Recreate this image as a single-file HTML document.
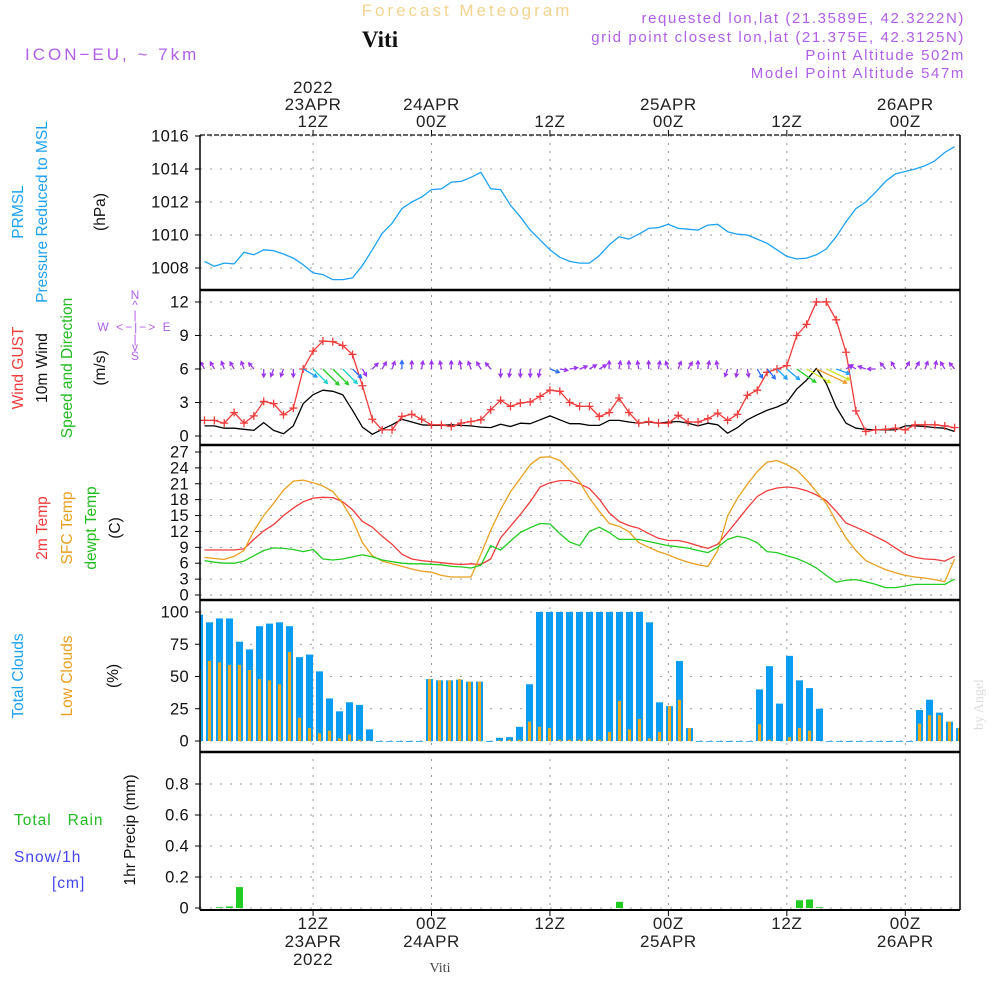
<!DOCTYPE html>
<html><head><meta charset="utf-8"><style>
html,body{margin:0;padding:0;background:#fff;}
svg{display:block;font-family:"Liberation Sans",sans-serif;}
</style></head><body>
<svg id="chart" width="1000" height="1000" viewBox="0 0 1000 1000" xmlns="http://www.w3.org/2000/svg">
<rect width="1000" height="1000" fill="#fff"/>
<g id="texts" font-size="15" fill="#222">
<text x="467" y="16" text-anchor="middle" fill="#f3d490" font-size="17" letter-spacing="3">Forecast Meteogram</text>
<text x="380" y="47" text-anchor="middle" font-family="Liberation Serif,serif" font-weight="bold" font-size="23" fill="#111">Viti</text>
<text x="25" y="60" fill="#b060e8" font-size="17" letter-spacing="3">ICON−EU, ~ 7km</text>
<g fill="#b060e8" font-size="15" text-anchor="end" letter-spacing="1.6">
<text x="965" y="23">requested lon,lat (21.3589E, 42.3222N)</text>
<text x="965" y="42">grid point closest lon,lat (21.375E, 42.3125N)</text>
<text x="965" y="60">Point Altitude 502m</text>
<text x="965" y="78">Model Point Altitude 547m</text>
</g>
<text transform="translate(983,730) rotate(-90)" fill="#ddd" font-family="Liberation Serif,serif" font-size="14">by Angel</text>
<text x="440" y="972" text-anchor="middle" font-family="Liberation Serif,serif" font-size="14" fill="#444">Viti</text>
<g font-size="15.5">
<text transform="translate(23,212) rotate(-90)" text-anchor="middle" fill="#1da1f2">PRMSL</text>
<text transform="translate(47,212) rotate(-90)" text-anchor="middle" fill="#1da1f2">Pressure Reduced to MSL</text>
<text transform="translate(105,212) rotate(-90)" text-anchor="middle" fill="#111">(hPa)</text>
<text transform="translate(23,368) rotate(-90)" text-anchor="middle" fill="#f03c3c">Wind GUST</text>
<text transform="translate(47,368) rotate(-90)" text-anchor="middle" fill="#111">10m Wind</text>
<text transform="translate(72,368) rotate(-90)" text-anchor="middle" fill="#22bb22">Speed and Direction</text>
<text transform="translate(105,368) rotate(-90)" text-anchor="middle" fill="#111">(m/s)</text>
<g fill="#b060e8" font-size="12" text-anchor="middle">
<text x="135" y="299">N</text><text x="135" y="309">^</text><text x="135" y="319">|</text>
<text x="135" y="331" letter-spacing="2">W &lt;−|−&gt; E</text><text x="135" y="343">|</text><text x="135" y="351">v</text><text x="135" y="360">S</text>
</g>
<text transform="translate(47,528) rotate(-90)" text-anchor="middle" fill="#f03c3c">2m Temp</text>
<text transform="translate(72,528) rotate(-90)" text-anchor="middle" fill="#e8a020">SFC Temp</text>
<text transform="translate(96,528) rotate(-90)" text-anchor="middle" fill="#22bb22">dewpt Temp</text>
<text transform="translate(120,528) rotate(-90)" text-anchor="middle" fill="#111">(C)</text>
<text transform="translate(23,676) rotate(-90)" text-anchor="middle" fill="#1da1f2">Total Clouds</text>
<text transform="translate(72,676) rotate(-90)" text-anchor="middle" fill="#e8a020">Low Clouds</text>
<text transform="translate(118,676) rotate(-90)" text-anchor="middle" fill="#111">(%)</text>
<text x="14" y="825" fill="#22bb22" letter-spacing="1" xml:space="preserve">Total   Rain</text>
<text x="14" y="862" fill="#4444ee" letter-spacing="1">Snow/1h</text>
<text x="52" y="888" fill="#4444ee" letter-spacing="1">[cm]</text>
<text transform="translate(135,830) rotate(-90)" text-anchor="middle" fill="#111">1hr Precip (mm)</text>
</g>
</g>
<g id="grid"></g>
<g id="marks"></g>
<g id="frame"></g>
</svg>
<script>
const pressure = [1008.4,1008.1,1008.3,1008.25,1008.95,1008.8,1009.1,1009.05,1008.85,1008.6,1008.2,1007.7,1007.6,1007.3,1007.3,1007.4,1008.15,1009.1,1010.1,1010.7,1011.6,1012.0,1012.3,1012.75,1012.8,1013.2,1013.25,1013.5,1013.8,1012.8,1012.75,1011.8,1011.1,1010.3,1009.7,1009.1,1008.65,1008.4,1008.3,1008.3,1008.75,1009.4,1009.9,1009.75,1010.05,1010.4,1010.45,1010.65,1010.4,1010.35,1010.3,1010.6,1010.65,1010.2,1010.05,1010.0,1009.75,1009.5,1009.1,1008.7,1008.55,1008.6,1008.8,1009.15,1009.9,1010.8,1011.6,1012.0,1012.6,1013.25,1013.7,1013.85,1014.0,1014.2,1014.5,1015.0,1015.35];
const wind10m = [0.9,0.9,0.7,0.7,0.6,0.5,1.2,0.5,0.2,0.9,2.9,3.7,4.1,4.0,3.7,2.3,0.8,0.15,0.6,1.0,1.5,1.25,1.0,0.95,0.95,1.0,0.95,0.9,0.8,0.75,1.05,0.85,1.15,1.1,1.45,1.8,1.45,1.1,1.1,0.95,0.95,1.4,1.4,1.25,1.15,1.25,1.15,1.25,1.3,1.15,0.9,1.15,1.0,0.25,0.75,1.45,1.9,2.3,2.6,3.0,4.2,5.0,6.05,4.7,2.6,1.15,0.7,0.6,0.55,0.55,0.55,0.9,0.9,0.85,0.75,0.7,0.4];
const gust = [1.4,1.4,1.15,2.1,1.15,1.8,3.1,2.9,1.9,2.5,6.0,7.6,8.5,8.45,8.1,7.3,4.5,1.5,0.55,0.55,1.75,1.95,1.5,1.0,1.0,0.85,1.15,1.3,1.45,2.35,3.2,2.65,2.95,3.05,3.55,4.1,4.0,3.0,2.65,2.65,1.75,2.1,3.4,2.1,1.15,1.3,1.15,1.15,1.85,1.25,1.25,1.55,2.05,1.4,1.95,3.65,4.1,5.7,6.0,6.3,9.0,10.0,12.0,12.0,10.4,7.5,2.25,0.4,0.55,0.6,0.7,0.55,1.0,1.0,1.0,0.9,0.75];
const windDir = [330,330,340,330,340,320,180,200,200,180,120,135,135,135,135,135,150,45,30,20,0,0,10,0,350,0,350,340,330,320,180,190,180,180,190,110,100,80,70,60,60,0,10,0,350,0,10,340,20,30,0,10,350,200,190,170,150,140,135,130,125,120,115,115,110,60,300,290,270,320,330,30,30,20,10,330,320];
const temp2m = [8.5,8.5,8.5,8.5,8.7,10.5,12.1,13.3,15.0,16.4,17.6,18.3,18.45,18.4,17.6,16.1,13.9,12.8,11.1,9.6,7.7,6.8,6.5,6.3,6.1,5.9,5.75,5.9,5.75,6.8,10.8,13.0,15.2,17.6,20.4,21.2,21.6,21.6,21.0,20.1,18.1,15.5,13.9,13.1,12.6,11.6,10.7,10.3,10.3,9.9,9.3,8.8,9.6,11.8,14.1,16.4,18.6,19.7,20.2,20.4,20.2,19.7,18.9,17.8,15.8,13.6,12.8,11.95,11.0,10.1,8.9,7.7,7.1,6.8,6.7,6.4,7.3];
const tempSfc = [7.1,6.9,6.7,7.3,8.4,12.1,15.0,17.3,19.8,21.5,21.7,21.2,20.6,19.5,17.3,14.2,9.9,7.4,6.4,5.9,5.4,4.9,4.5,4.3,3.7,3.4,3.4,3.4,7.7,12.2,16.1,19.5,22.0,24.6,26.0,26.1,25.4,23.5,21.4,18.3,15.8,13.5,13.0,11.95,9.9,9.0,8.2,7.6,6.8,6.2,5.7,5.4,8.4,14.9,18.3,20.9,23.3,25.1,25.4,24.6,23.6,21.7,19.5,17.3,13.9,10.8,8.4,6.5,5.6,4.8,4.2,3.7,3.4,3.2,2.9,2.5,6.8];
const dewpt = [6.5,6.2,6.0,6.0,6.4,7.4,8.4,8.9,8.8,8.6,8.2,8.6,6.8,6.6,6.8,7.2,7.6,7.2,6.6,6.3,6.0,5.9,5.9,5.8,5.7,5.4,5.3,5.1,5.6,9.3,8.5,10.2,11.8,12.7,13.5,13.4,11.6,10.0,9.3,12.0,12.8,11.8,10.5,10.5,10.5,10.1,9.7,9.3,9.1,8.85,8.4,8.0,9.0,10.5,11.1,10.7,9.9,8.2,8.0,7.4,6.9,6.1,5.1,3.7,2.4,2.8,2.9,2.5,2.0,1.4,1.4,1.7,2.0,2.0,2.0,2.0,3.0];
const totalClouds = [98,92,95,95,77,71,89,91,92,89,65,67,54,33,23,30,28,9,0,0,0,0,0,48,47,47,47.5,46,46,0,2.5,3,11,44,100,100,100,100,100,100,100,100,100,100,100,92,30,27,62,10,0,0,0,0,0,0,40,58,29,66,47,41,25,0,0,0,0,0,0,0,0,0,24,32,22,15,10,10];
const lowClouds = [55,62,61,59,59,55,48,47,44,69,18,10,6,8,2,5,1,0.3,0,0,0,0,0,48,47,47,48,46,46,0,0.5,1,1,15,11,10,1,1,1,1,1,7,31,9,17,2,7,27,32,10,0,0,0,0,0,0,13,1,0,3,10,8,0,0,0,0,0,0,0,0,0,0,13.5,20,20,15,10,10];
const precip = [0,0,0.005,0.01,0.135,0,0,0,0,0,0,0,0,0,0,0,0,0,0,0,0,0,0,0,0,0,0,0,0,0,0,0,0,0,0,0,0,0,0,0,0,0,0.04,0,0,0,0,0,0,0,0,0,0,0,0,0,0,0,0,0,0.05,0.055,0.005,0,0,0,0,0,0,0,0,0,0,0,0,0,0,0];
const pressTicks = [1008,1010,1012,1014,1016];
const windTicks = [0,3,6,9,12];
const tempTicks = [0,3,6,9,12,15,18,21,24,27];
const cloudTicks = [0,25,50,75,100];
const precipTicks = ["0","0.2","0.4","0.6","0.8"];
const timeHours = [11,23,35,47,59,71];
const timeTopLabels = [["2022","23APR","12Z"],["24APR","00Z"],["12Z"],["25APR","00Z"],["12Z"],["26APR","00Z"]];
const timeBottomLabels = [["12Z","23APR","2022"],["00Z","24APR"],["12Z"],["00Z","25APR"],["12Z"],["00Z","26APR"]];

const X0=200, X1=960;
const xOf = h => 204.5 + 9.87*h;
const xBar = k => 199.5 + 10.0*k;
const yP = v => 268 - (v-1008)*16.5;
const yW = v => 436 - v*11.17;
const yT = v => 595 - v*5.296;
const yC = v => 741 - v*1.29;
const yR = v => 908 - v*155;
const NS='http://www.w3.org/2000/svg';
const mk=(tag,attrs,parent)=>{const e=document.createElementNS(NS,tag);for(const k in attrs)e.setAttribute(k,attrs[k]);parent.appendChild(e);return e;};
const grid=document.getElementById('grid'), marks=document.getElementById('marks'), frame=document.getElementById('frame');

timeHours.forEach(h=>{
  const l=mk('line',{x1:xOf(h),x2:xOf(h),y1:135,y2:910,stroke:'#999','stroke-dasharray':'2,6','stroke-width':1},grid);
  
  
});
function yTicks(ticks,yf,labels,name){
  ticks.forEach((t,i)=>{
    const y=yf(t);
    const g=mk('line',{x1:X0,x2:X1,y1:y,y2:y,stroke:'#999','stroke-dasharray':'2,8','stroke-width':1},grid);
    
    
    mk('line',{x1:X0-5,x2:X0,y1:y,y2:y,stroke:'#000'},frame);
    const tx=mk('text',{x:X0-11,y:y+5.5,'text-anchor':'end','font-size':16.5,fill:'#111','letter-spacing':'0.3'},frame);
    tx.textContent=labels?labels[i]:t;
    
    
  });
}
yTicks(pressTicks,yP,null,'pressure');
yTicks(windTicks,yW,null,'wind');
yTicks(tempTicks,yT,null,'temp');
yTicks(cloudTicks,yC,null,'cloud');
yTicks([0,0.2,0.4,0.6,0.8],yR,precipTicks,'precip');

timeHours.forEach((h,i)=>{
  const top=timeTopLabels[i];
  top.forEach((s,j)=>{
    const t=mk('text',{x:xOf(h),y:127-(top.length-1-j)*17,'text-anchor':'middle','font-size':17,fill:'#222','letter-spacing':'0.6'},frame);
    t.textContent=s;
    
    
  });
  timeBottomLabels[i].forEach((s,j)=>{
    const t=mk('text',{x:xOf(h),y:929+j*18,'text-anchor':'middle','font-size':17,fill:'#222','letter-spacing':'0.6'},frame);
    t.textContent=s;
    
    
  });
  mk('line',{x1:xOf(h),x2:xOf(h),y1:130,y2:136,stroke:'#000'},frame);
  mk('line',{x1:xOf(h),x2:xOf(h),y1:910,y2:916,stroke:'#000'},frame);
});

function line(arr,yf,color,name,w){
  const p=mk('polyline',{points:arr.map((v,i)=>xOf(i).toFixed(1)+','+yf(v).toFixed(1)).join(' '),fill:'none',stroke:color,'stroke-width':w||1.3,'stroke-linejoin':'round'},marks);
  
  
}
line(pressure,yP,'#1da1f2','pressure-line');
line(wind10m,yW,'#000','wind-10m-line');
line(gust,yW,'#f03c3c','wind-gust-line');
gust.forEach((v,i)=>{
  const x=xOf(i),y=yW(v);
  const m=mk('path',{d:`M${x-4},${y}H${x+4}M${x},${y-4}V${y+4}`,stroke:'#f03c3c','stroke-width':1.3},marks);
  
  
});
function arrowColor(s){
  if(s<1.5) return '#9a33ee';
  if(s<2.5) return '#2b6bff';
  if(s<3.3) return '#1aa0ff';
  if(s<3.9) return '#1ccfcf';
  if(s<4.5) return '#22cc22';
  if(s<5.5) return '#cde022';
  return '#f39a22';
}
windDir.forEach((d,i)=>{
  const s=wind10m[i], len=Math.max(8,5.5*s), a=d*Math.PI/180;
  const x0=xOf(i), y0=yW(6);
  const x1=x0+len*Math.sin(a), y1=y0-len*Math.cos(a);
  const b1=a+Math.PI-0.5, b2=a+Math.PI+0.5, hl=4;
  const p=mk('path',{d:`M${x0},${y0}L${x1},${y1}M${x1+hl*Math.sin(b1)},${y1-hl*Math.cos(b1)}L${x1},${y1}L${x1+hl*Math.sin(b2)},${y1-hl*Math.cos(b2)}`,stroke:arrowColor(s),'stroke-width':1.3,fill:'none'},marks);
  
  
});
line(temp2m,yT,'#f03c3c','temp-2m-line');
line(tempSfc,yT,'#e8a020','temp-sfc-line');
line(dewpt,yT,'#22cc22','dewpoint-line');

const clip=mk('clipPath',{id:'plotclip'},marks);
mk('rect',{x:X0,y:135,width:X1-X0,height:775},clip);
const bars=mk('g',{'clip-path':'url(#plotclip)'},marks);
totalClouds.forEach((v,k)=>{
  const xc=xBar(k);
  const r=mk('rect',{x:xc-3.5,y:yC(v),width:7,height:Math.max(0.8,yC(0)-yC(v)),fill:'#0a9cf0'},bars);
  
  
  const lv=lowClouds[k];
  const o=mk('rect',{x:xc-1.5,y:yC(lv),width:3,height:Math.max(0,yC(0)-yC(lv)),fill:'#e8a820'},bars);
  
  
});
precip.forEach((v,k)=>{
  if(v<=0) return;
  const xc=xBar(k);
  const r=mk('rect',{x:xc-3.5,y:yR(v),width:7,height:yR(0)-yR(v),fill:'#22cc22'},bars);
  
  
});

mk('line',{x1:X0,x2:X1,y1:135,y2:135,stroke:'#333','stroke-width':1.5,'stroke-dasharray':'5,2'},frame);
[290,445,600,752].forEach(y=>{
  const l=mk('line',{x1:X0,x2:X1,y1:y,y2:y,stroke:'#000','stroke-width':2.5},frame);
  
  
});
mk('line',{x1:X0,x2:X1,y1:910,y2:910,stroke:'#000','stroke-width':2},frame);
mk('line',{x1:X0,x2:X0,y1:135,y2:910,stroke:'#000','stroke-width':1.5},frame);
mk('line',{x1:X1,x2:X1,y1:135,y2:910,stroke:'#000','stroke-width':1.5},frame);
</script>
</body></html>
